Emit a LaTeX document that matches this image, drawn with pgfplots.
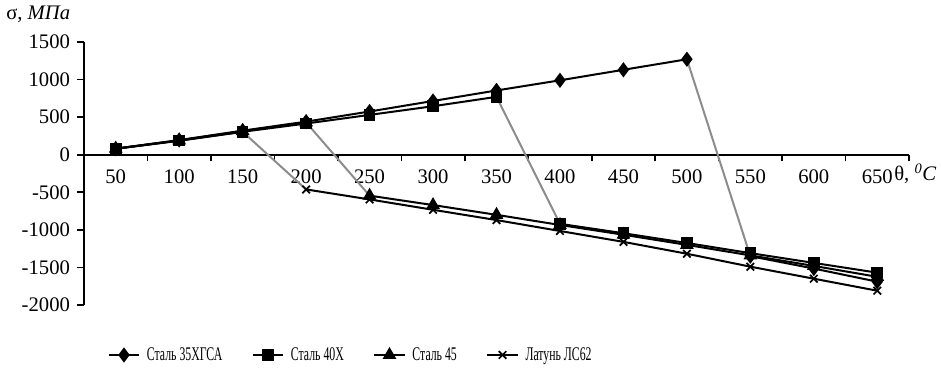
\documentclass[border=0pt]{standalone}
\usepackage{pgfplots}
\pgfplotsset{compat=1.18}
\usepackage{fontspec}
\setmainfont{Liberation Serif}
\newfontfamily\legfont[FakeStretch=0.61]{Liberation Serif}
\definecolor{grayline}{RGB}{140,140,140}
\begin{document}
\begin{tikzpicture}[x=0.75pt,y=0.75pt]
\useasboundingbox (0,0) rectangle (941,370);
\begin{axis}[
  at={(84*0.75pt,65*0.75pt)}, anchor=south west,
  scale only axis, width=618.75pt, height=197.25pt,
  xmin=-0.5, xmax=12.5, ymin=-2000, ymax=1500,
  axis x line=middle, axis y line=left,
  axis line style={-, line width=1.4pt, black},
  xtick={0,...,12},
  xticklabels={50,100,150,200,250,300,350,400,450,500,550,600,650},
  minor xtick={-0.5,0.5,...,12.5},
  ytick={-2000,-1500,...,1500},
  major x tick style={draw=none},
  minor x tick style={line width=1.2pt, black},
  major y tick style={line width=1.2pt, black},
  tick align=outside,
  major tick length=5pt, minor tick length=5pt,
  /pgf/number format/assume math mode=true,
  /pgf/number format/1000 sep={},
  tick label style={font=\fontsize{15.5}{15.5}\selectfont},
  xticklabel style={yshift=-3pt},
  yticklabel style={xshift=-2pt},
  clip=false,
  legend columns=4,
  legend style={at={(0.3236,-0.19)}, anchor=center, draw=none, fill=none,
    font=\legfont\fontsize{14.5}{14.5}\selectfont,
    inner sep=0pt,
    /tikz/every odd column/.append style={column sep=3pt},
    /tikz/every even column/.append style={column sep=20pt}},
  legend image code/.code={\draw[#1, mark repeat=2, mark phase=2] plot coordinates {(0pt,0pt) (11.5pt,0pt) (23pt,0pt)};},
]
% gray drop segments
\addplot[grayline, line width=1.5pt, forget plot] coordinates {(9,1270) (10,-1350)};
\addplot[grayline, line width=1.5pt, forget plot] coordinates {(6,770) (7,-920)};
\addplot[grayline, line width=1.5pt, forget plot] coordinates {(3,430) (4,-545)};
\addplot[grayline, line width=1.5pt, forget plot] coordinates {(2,305) (3,-462)};
% Сталь 35ХГСА
\addplot[black, line width=1.5pt, mark=diamond*, mark size=4.5pt] coordinates {
(0,80) (1,195) (2,320) (3,440) (4,575) (5,715) (6,855) (7,990) (8,1130) (9,1270)};
\addlegendentry{Сталь 35ХГСА}
\addplot[black, line width=1.5pt, mark=diamond*, mark size=4.5pt, forget plot] coordinates {
(10,-1350) (11,-1515) (12,-1690)};
% Сталь 40Х
\addplot[black, line width=1.5pt, mark=square*, mark size=3.6pt] coordinates {
(0,80) (1,190) (2,305) (3,415) (4,530) (5,645) (6,770)};
\addlegendentry{Сталь 40Х}
\addplot[black, line width=1.5pt, mark=square*, mark size=3.6pt, forget plot] coordinates {
(7,-920) (8,-1045) (9,-1175) (10,-1310) (11,-1440) (12,-1570)};
% Сталь 45
\addplot[black, line width=1.5pt, mark=triangle*, mark size=4.5pt] coordinates {
(0,80) (1,190) (2,315) (3,430)};
\addlegendentry{Сталь 45}
\addplot[black, line width=1.5pt, mark=triangle*, mark size=4.5pt, forget plot] coordinates {
(4,-545) (5,-670) (6,-800) (7,-935) (8,-1065) (9,-1200) (10,-1340) (11,-1480) (12,-1625)};
% Латунь ЛС62
\addplot[black, line width=1.5pt, mark=x, mark size=4pt, mark options={line width=1.3pt}] coordinates {
(0,80) (1,185) (2,305)};
\addlegendentry{Латунь ЛС62}
\addplot[black, line width=1.5pt, mark=x, mark size=4pt, mark options={line width=1.3pt}, forget plot] coordinates {
(3,-462) (4,-595) (5,-733) (6,-870) (7,-1015) (8,-1160) (9,-1318) (10,-1490) (11,-1650) (12,-1810)};
\end{axis}
\node[anchor=west, inner sep=0pt, font=\fontsize{15.5}{15.5}\selectfont] at (6,356) {σ, \textit{МПа}};
\node[anchor=west, inner sep=0pt, font=\fontsize{15.5}{15.5}\selectfont] at (894,196) {θ, \textsuperscript{\textit{0}}\textit{C}};
\end{tikzpicture}
\end{document}
